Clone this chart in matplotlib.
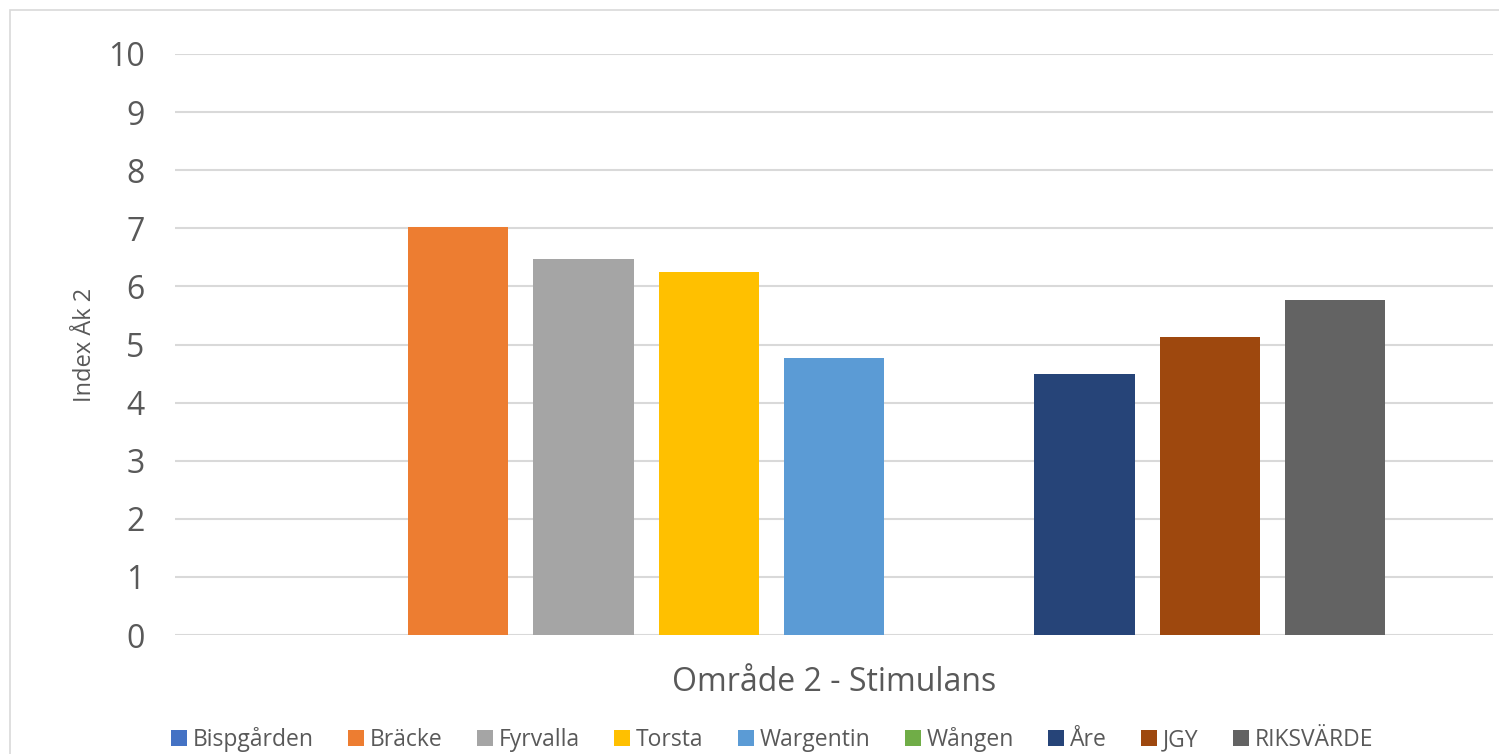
import matplotlib.pyplot as plt
from matplotlib.patches import Rectangle

# Data
schools = ['Bispgården', 'Bräcke', 'Fyrvalla', 'Torsta', 'Wargentin',
           'Wången', 'Åre', 'JGY', 'RIKSVÄRDE']
values = [0, 7.02, 6.47, 6.25, 4.76, 0, 4.50, 5.13, 5.77]
colors = ['#4472C4', '#ED7D31', '#A5A5A5', '#FFC000', '#5B9BD5',
          '#70AD47', '#264478', '#9E480E', '#636363']
category = 'Område 2 - Stimulans'
y_label = 'Index Åk 2'

text_color = '#595959'
plt.rcParams['font.family'] = ['Open Sans', 'DejaVu Sans']

fig = plt.figure(figsize=(14.99, 7.54), dpi=100)
ax = fig.add_axes([175 / 1499, 119 / 754, 1318 / 1499, 581 / 754])

# Chart border
fig.patches.append(Rectangle((10 / 1499, -0.01), 1.1, 0.997, transform=fig.transFigure,
                             fill=False, edgecolor='#d9d9d9', linewidth=1.2))

for i, (name, v, c) in enumerate(zip(schools, values, colors)):
    ax.bar(i, v, width=0.8, color=c, label=name, linewidth=0)

ax.set_xlim(4 - 5.26, 4 + 5.26)
ax.set_ylim(0, 10)
ax.set_yticks(range(0, 11))
ax.yaxis.grid(True, color='#d9d9d9', linewidth=1.5)
ax.set_axisbelow(True)
ax.set_xticks([])
for s in ax.spines.values():
    s.set_visible(False)
ax.tick_params(axis='y', length=0, labelsize=23, labelcolor=text_color, pad=22)

ax.set_ylabel(y_label, fontsize=17, color=text_color, labelpad=8)
ax.set_xlabel(category, fontsize=23, color=text_color, labelpad=22)

fig.legend(*ax.get_legend_handles_labels(), loc='lower center',
           bbox_to_anchor=(772 / 1499, -0.025), ncol=9, frameon=False,
           labelcolor=text_color, handlelength=0.7, handleheight=0.7,
           handletextpad=0.25, columnspacing=1.5, fontsize=16.5)

fig.savefig('out.png', dpi=100)
